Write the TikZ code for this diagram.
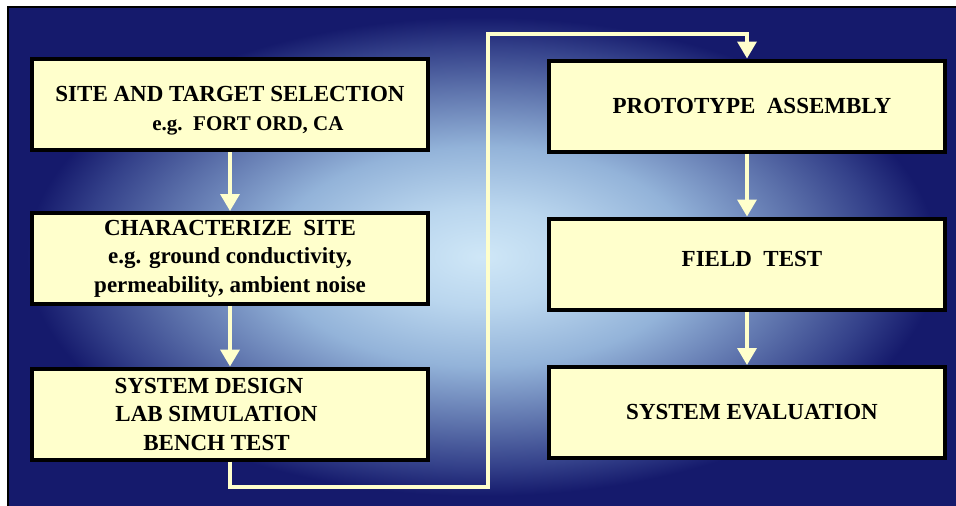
\documentclass[tikz,border=0pt]{standalone}
\usepackage{fontspec}
\setmainfont{Liberation Serif}
\usepackage{tikz}
\usetikzlibrary{arrows.meta}

\definecolor{paper}{HTML}{FFFFCC}
\definecolor{glowin}{HTML}{CFE7F7}
\definecolor{glowa}{HTML}{BAD6EE}
\definecolor{glowb}{HTML}{93B3D9}
\definecolor{glowc}{HTML}{5B70AA}
\definecolor{glowd}{HTML}{34418A}
\definecolor{glowout}{HTML}{151A6C}

% soft light spot in the middle of the navy panel
\pgfdeclareradialshading{glow}{\pgfpoint{0bp}{0bp}}{color(0bp)=(glowin); color(5bp)=(glowa); color(11bp)=(glowb); color(17bp)=(glowc); color(21bp)=(glowd); color(24bp)=(glowout); color(50bp)=(glowout)}

\begin{document}
\begin{tikzpicture}[x=1pt,y=-1pt]
\tikzstyle{stage}=[draw, line width=4pt, fill=paper, minimum width=396pt, minimum height=91pt, inner sep=0pt, align=center, font=\bfseries\fontsize{23}{28.5}\selectfont]
\tikzstyle{flow}=[color=paper, line width=3.5pt, -{Triangle[width=19pt,length=17pt]}]
\useasboundingbox (0,0) rectangle (956,506);

% panel
\shade[shading=glow] (8,7) rectangle (956,506);
\draw[line width=2.5pt] (8,506) -- (8,7) -- (956,7);

\node[stage] (site) at (230,104.5) {\rule{0pt}{28pt}SITE AND TARGET SELECTION\\\hspace*{36pt}{\fontsize{21}{28}\selectfont e.g.\ \ FORT ORD, CA}};
\node[stage] (char) at (230,258.5) {CHARACTERIZE\ \ SITE\\e.g. ground conductivity,\\permeability, ambient noise};
\node[stage] (design) at (230,414) {SYSTEM DESIGN\kern42pt\\LAB SIMULATION\kern27pt\\BENCH TEST\kern27pt};
\node[stage] (proto) at (747,106) {\kern10pt PROTOTYPE\ \ ASSEMBLY};
\node[stage] (field) at (747,264) {\kern10pt FIELD\ \ TEST\rule[-10pt]{0pt}{10pt}};
\node[stage] (evalu) at (747,412.5) {\kern10pt SYSTEM EVALUATION};

\coordinate (lowturn) at (488,487);
\coordinate (highturn) at (488,34);

\path[flow]
(site) edge (char)
(char) edge (design)
(proto) edge (field)
(field) edge (evalu);
\draw[flow] (design.south) |- (lowturn) -- (highturn) -| (proto.north);
\end{tikzpicture}
\end{document}
